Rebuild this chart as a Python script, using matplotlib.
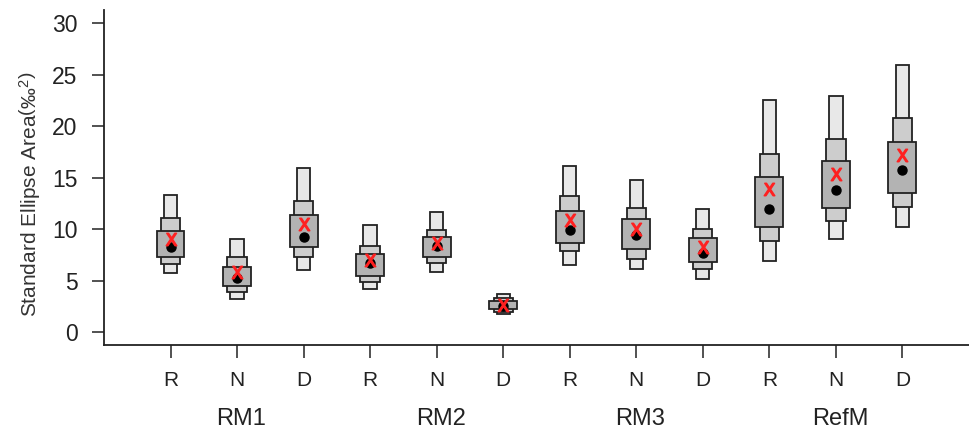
import numpy as np
import matplotlib.pyplot as plt

# Credible intervals of the standard ellipse area, 4 communities x 3 groups
groups = ["RM1", "RM2", "RM3", "RefM"]
labels = ["R", "N", "D"] * 4

lo95 = [5.73, 3.20, 6.05, 4.20, 5.88, 1.78, 6.56, 6.15, 5.17, 6.95, 9.09, 10.22]
hi95 = [13.36, 9.09, 16.00, 10.42, 11.65, 3.72, 16.18, 14.76, 11.94, 22.52, 22.97, 25.92]
lo75 = [6.60, 3.88, 7.28, 4.91, 6.76, 2.00, 7.89, 7.15, 6.15, 8.83, 10.78, 12.19]
hi75 = [11.07, 7.28, 12.78, 8.41, 9.93, 3.30, 13.20, 12.10, 10.00, 17.28, 18.73, 20.83]
lo50 = [7.31, 4.50, 8.28, 5.47, 7.28, 2.23, 8.70, 8.12, 6.86, 10.25, 12.07, 13.50]
hi50 = [9.86, 6.31, 11.39, 7.60, 9.22, 3.07, 11.81, 10.97, 9.13, 15.05, 16.60, 18.45]
mode = [8.31, 5.24, 9.28, 6.70, 8.41, 2.60, 9.93, 9.45, 7.73, 11.94, 13.79, 15.76]
sea_c = [9.03, 5.88, 10.51, 7.02, 8.64, 2.70, 10.90, 10.03, 8.31, 13.88, 15.34, 17.21]

x = np.arange(1, 13)

plt.rcParams["mathtext.fontset"] = "custom"
plt.rcParams["mathtext.rm"] = "Liberation Sans"
plt.rcParams["mathtext.it"] = "Liberation Sans"

fig = plt.figure(figsize=(9.69, 4.36), dpi=100)
ax = fig.add_axes([0.1073, 0.2087, 0.8927, 0.7683])

levels = [
    (lo95, hi95, 0.20, "#e8e8e8"),
    (lo75, hi75, 0.29, "#cdcdcd"),
    (lo50, hi50, 0.42, "#b3b3b3"),
]
for lo, hi, w, col in levels:
    lo = np.array(lo)
    hi = np.array(hi)
    ax.bar(x, hi - lo, bottom=lo, width=w, color=col,
           edgecolor="#222222", linewidth=1.3, zorder=2)

ax.plot(x, mode, "o", color="black", markersize=6.5, zorder=4)
ax.plot(x, sea_c, ls="none", marker=r"$\mathsf{X}$", color="#ff2020",
        markersize=9, zorder=5)

ax.set_xlim(0.0, 13.0)
ax.set_ylim(-1.23, 31.3)
ax.set_yticks(range(0, 31, 5))
ax.set_xticks(x)
ax.set_xticklabels(labels, fontsize=15, family=["Liberation Sans Narrow", "Liberation Sans"])
ax.tick_params(axis="y", labelsize=16.5, length=9, width=1.1, pad=10, colors="#222222")
ax.tick_params(axis="x", length=9, width=1.1, pad=10, colors="#222222")
for lab in ax.get_yticklabels():
    lab.set_family("Liberation Sans")

for s in ["top", "right"]:
    ax.spines[s].set_visible(False)
for s in ["left", "bottom"]:
    ax.spines[s].set_linewidth(1.3)
    ax.spines[s].set_color("#222222")

for i, g in enumerate(groups):
    ax.text(2 + 3 * i + 0.06, -8.4, g, ha="center", va="center", fontsize=17,
            family=["Liberation Sans Narrow", "Liberation Sans"], color="#222222")

fig.text(0.031, 0.555, r"Standard Ellipse Area$\left(\mathrm{‰}^{2}\right)$", rotation=90,
         ha="center", va="center", fontsize=15, family="Liberation Sans", color="#333333")

fig.savefig("out.png", dpi=100)
